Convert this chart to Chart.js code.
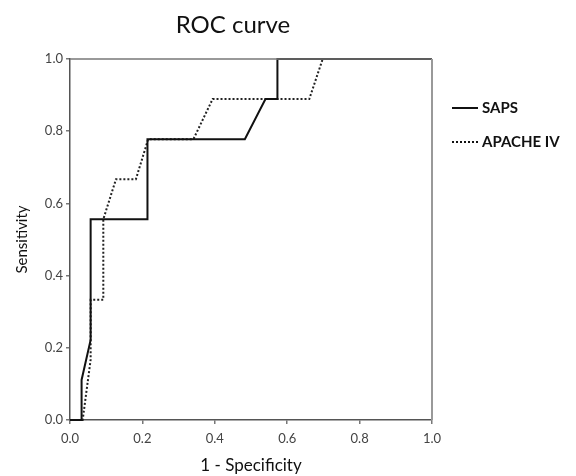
<!DOCTYPE html>
<html>
<head>
<meta charset="utf-8">
<script src="https://cdn.jsdelivr.net/npm/chart.js@4.4.1/dist/chart.umd.min.js"></script>
<style>
  html, body { margin: 0; padding: 0; background: #fff; }
  #wrap { width: 576px; height: 476px; }
</style>
</head>
<body>
<div id="wrap"><canvas id="c" width="576" height="476"></canvas></div>
<script>
// ---- data ----
const chartTitle = "ROC curve";
const xAxisTitle = "1 - Specificity";
const yAxisTitle = "Sensitivity";
const seriesNames = ["SAPS", "APACHE IV"];
const sapsX = [0, 0.032, 0.032, 0.057, 0.057, 0.214, 0.214, 0.483, 0.540, 0.573, 0.573, 1];
const sapsY = [0, 0, 0.111, 0.222, 0.556, 0.556, 0.778, 0.778, 0.889, 0.889, 1, 1];
const apacheX = [0, 0.035, 0.057, 0.057, 0.092, 0.092, 0.127, 0.182, 0.216, 0.341, 0.394, 0.661, 0.698, 1];
const apacheY = [0, 0, 0.167, 0.333, 0.333, 0.556, 0.667, 0.667, 0.778, 0.778, 0.889, 0.889, 1, 1];
const tickValues = [0, 0.2, 0.4, 0.6, 0.8, 1.0];

const toPts = (xs, ys) => xs.map((x, i) => ({ x: x, y: ys[i] }));

const FONT = "Lato, 'Open Sans', sans-serif";

const framePlugin = {
  id: 'frame',
  afterDatasetsDraw(chart) {
    const { ctx, chartArea: a } = chart;
    ctx.save();
    ctx.lineWidth = 1.5;
    ctx.strokeStyle = '#777';
    ctx.beginPath();
    ctx.moveTo(a.left, a.top);
    ctx.lineTo(a.right, a.top);
    ctx.stroke();
    ctx.strokeStyle = '#999';
    ctx.lineWidth = 2;
    ctx.beginPath();
    ctx.moveTo(a.right, a.top);
    ctx.lineTo(a.right, a.bottom);
    ctx.stroke();
    ctx.restore();
  },
  afterDraw(chart) {
    const { ctx } = chart;
    ctx.save();
    // title
    ctx.fillStyle = '#111';
    ctx.font = "24px " + FONT;
    ctx.textAlign = 'center';
    ctx.textBaseline = 'middle';
    ctx.fillText(chartTitle, 233, 25);
    // legend
    const items = [
      { name: seriesNames[0], y: 108, dash: [] },
      { name: seriesNames[1], y: 142, dash: [2, 2] }
    ];
    ctx.font = "bold 15px " + FONT;
    ctx.textAlign = 'left';
    items.forEach(it => {
      ctx.beginPath();
      ctx.setLineDash(it.dash);
      ctx.lineWidth = 2;
      ctx.strokeStyle = '#111';
      ctx.moveTo(452, it.y);
      ctx.lineTo(478, it.y);
      ctx.stroke();
      ctx.setLineDash([]);
      ctx.fillStyle = '#111';
      ctx.fillText(it.name, 482, it.y);
    });
    ctx.restore();
  }
};

new Chart(document.getElementById('c'), {
  type: 'scatter',
  data: {
    datasets: [
      {
        label: seriesNames[0],
        data: toPts(sapsX, sapsY),
        showLine: true,
        borderColor: '#111',
        borderWidth: 2,
        pointRadius: 0,
        tension: 0,
        clip: 4
      },
      {
        label: seriesNames[1],
        data: toPts(apacheX, apacheY),
        showLine: true,
        borderColor: '#222',
        borderWidth: 2,
        borderDash: [2, 2],
        pointRadius: 0,
        tension: 0,
        clip: 4
      }
    ]
  },
  options: {
    responsive: false,
    animation: false,
    devicePixelRatio: 1,
    layout: { padding: { left: 0, top: 59, right: 144, bottom: 0 } },
    plugins: {
      legend: { display: false },
      title: { display: false },
      tooltip: { enabled: false }
    },
    scales: {
      x: {
        type: 'linear',
        min: 0, max: 1,
        afterFit(s) { s.height = 56; },
        afterBuildTicks(s) { s.ticks = tickValues.map(v => ({ value: v })); },
        ticks: {
          callback: v => v.toFixed(1),
          font: { family: FONT, size: 13 },
          color: '#444',
          padding: 7,
          maxRotation: 0
        },
        grid: { drawOnChartArea: false, tickLength: 4, color: '#777', lineWidth: 1.5 },
        border: { display: true, color: '#555', width: 1.5 },
        title: {
          display: true,
          text: xAxisTitle,
          font: { family: FONT, size: 17 },
          color: '#111',
          padding: { top: 4, bottom: 0 }
        }
      },
      y: {
        type: 'linear',
        min: 0, max: 1,
        afterFit(s) { s.width = 70; },
        afterBuildTicks(s) { s.ticks = tickValues.map(v => ({ value: v })); },
        ticks: {
          callback: v => v.toFixed(1),
          font: { family: FONT, size: 13 },
          color: '#444',
          padding: 3
        },
        grid: { drawOnChartArea: false, tickLength: 4, color: '#777', lineWidth: 1.5 },
        border: { display: true, color: '#555', width: 1.5 },
        title: {
          display: true,
          text: yAxisTitle,
          font: { family: FONT, size: 15 },
          color: '#111',
          padding: { top: 13, bottom: 0 }
        }
      }
    }
  },
  plugins: [framePlugin]
});
</script>
</body>
</html>
